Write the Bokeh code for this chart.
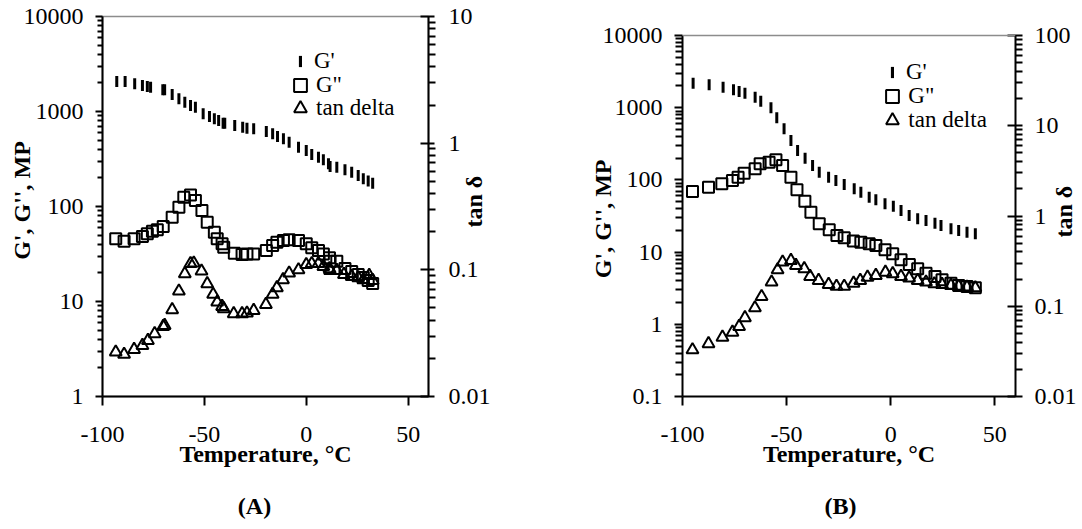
import math
from bokeh.plotting import figure
from bokeh.models import (Range1d, LogScale, LogAxis, LinearAxis, FixedTicker,
                          CustomJSTickFormatter, Legend, LegendItem, Span)
from bokeh.layouts import row
from bokeh.embed import file_html
from bokeh.resources import INLINE

# ---------------- Panel A data ----------------
a_gp_T = [-93.0, -88.9, -84.2, -80.4, -78.0, -76.4, -70.4, -69.5, -65.8, -62.5, -59.6, -56.8,
          -54.4, -50.6, -47.5, -45.1, -43.0, -40.8, -40.0, -35.1, -31.2, -29.1, -25.8, -19.6,
          -16.5, -14.1, -11.2, -8.4, -3.8, 0.0, 2.7, 6.0, 8.4, 10.9, 11.7, 15.0, 19.0, 22.3,
          25.5, 28.0, 30.4, 32.6]
a_gp = [2070, 2070, 1960, 1880, 1830, 1800, 1690, 1690, 1510, 1360, 1250, 1155, 1110, 946,
        886, 837, 804, 753, 753, 712, 684, 667, 658, 616, 582, 545, 516, 476, 421, 388, 352,
        330, 310, 281, 264, 259, 243, 230, 212, 196, 185, 176]
a_gpp_T = [-93.5, -89.4, -84.5, -80.4, -78.0, -75.5, -73.1, -70.2, -65.8, -62.5, -60.1, -56.8,
           -54.4, -51.2, -48.6, -45.1, -43.7, -41.3, -40.5, -35.3, -31.5, -29.1, -25.8, -19.6,
           -16.5, -14.4, -11.2, -8.4, -3.8, 0.0, 2.7, 6.0, 8.4, 11.4, 11.7, 15.0, 19.0, 22.3,
           25.5, 28.0, 30.4, 32.6]
a_gpp = [45.7, 43.1, 45.7, 48.3, 51.6, 55.0, 56.9, 61.5, 77.1, 98.3, 125, 132, 116, 90.8, 68.4,
         53.6, 45.7, 40.5, 37.3, 32.2, 31.2, 31.7, 31.7, 34.4, 38.8, 42.1, 43.8, 44.6, 43.8,
         40.5, 36.7, 34.4, 31.7, 28.8, 26.5, 26.5, 22.2, 20.7, 19.2, 17.9, 16.6, 15.5]
a_tan_T = [-93.5, -89.4, -84.5, -80.4, -77.7, -74.4, -70.2, -69.5, -65.8, -62.5, -59.6, -56.8,
           -55.2, -51.4, -48.6, -45.7, -43.7, -41.3, -40.5, -35.6, -31.5, -29.1, -25.8, -19.8,
           -16.5, -14.4, -11.4, -8.4, -3.8, 0.0, 2.7, 6.0, 8.4, 11.4, 11.7, 15.0, 18.5, 22.3,
           25.5, 28.0, 30.9, 32.6]
a_tan = [0.0224, 0.0215, 0.0235, 0.0253, 0.0277, 0.0313, 0.0357, 0.0364, 0.0484, 0.0679,
         0.0931, 0.112, 0.113, 0.0977, 0.0777, 0.0640, 0.0556, 0.0514, 0.0493, 0.0450, 0.0450,
         0.0455, 0.0478, 0.0533, 0.0640, 0.0722, 0.0836, 0.0943, 0.100, 0.110, 0.112, 0.112,
         0.106, 0.102, 0.0989, 0.0989, 0.0920, 0.0887, 0.0867, 0.0836, 0.0903, 0.0824]

# ---------------- Panel B data ----------------
b_gp_T = [-94.9, -87.2, -80.5, -75.5, -72.8, -70.0, -65.1, -62.4, -57.5, -54.7, -51.2, -47.9,
          -44.7, -41.1, -37.5, -34.3, -29.8, -26.3, -22.3, -17.5, -14.3, -10.3, -7.1, -2.7,
          1.3, 5.0, 8.9, 13.0, 17.0, 21.3, 24.2, 29.0, 32.7, 36.7, 40.7]
b_gp = [2185, 2075, 1925, 1770, 1676, 1588, 1397, 1230, 997, 725, 510, 351, 255, 200, 158,
        128, 109, 98, 86.4, 75.3, 67.6, 57.5, 52.9, 46.6, 43.2, 37.7, 32.1, 28.9, 27.4, 25.1,
        23.4, 21.0, 19.9, 18.9, 17.9]
b_gpp_T = [-95.2, -87.5, -81.1, -76.0, -73.3, -70.4, -65.1, -62.7, -58.4, -55.1, -51.9, -47.9,
           -45.0, -41.2, -38.3, -34.3, -29.5, -25.8, -22.3, -17.9, -14.3, -10.3, -7.1, -2.7,
           1.0, 5.0, 9.0, 13.0, 17.0, 21.3, 24.7, 29.0, 32.7, 36.7, 40.7]
b_gpp = [69.1, 79.2, 88.3, 98.2, 109, 124, 143, 167, 176, 190, 158, 109, 72.9, 50.7, 35.7,
         24.7, 20.4, 17.0, 15.8, 14.2, 13.7, 13.0, 12.3, 10.8, 9.47, 7.82, 6.73, 5.87, 5.10,
         4.59, 4.13, 3.71, 3.44, 3.34, 3.21]
b_tan_T = [-95.2, -87.5, -80.8, -76.0, -72.8, -70.0, -65.2, -62.0, -57.2, -54.3, -51.9, -47.9,
           -45.5, -41.5, -38.7, -34.6, -29.8, -26.0, -22.3, -17.8, -14.6, -11.1, -7.1, -2.5,
           1.0, 5.0, 8.9, 13.0, 17.0, 21.0, 24.7, 29.0, 32.7, 36.7, 40.7]
b_tan = [0.0329, 0.0384, 0.0454, 0.0516, 0.0597, 0.0745, 0.0961, 0.128, 0.185, 0.253, 0.308,
         0.321, 0.283, 0.260, 0.214, 0.193, 0.174, 0.166, 0.166, 0.180, 0.193, 0.210, 0.219,
         0.238, 0.229, 0.214, 0.206, 0.193, 0.185, 0.177, 0.174, 0.170, 0.166, 0.163, 0.160]

# ---------------- axis / text definitions ----------------
x_ticks = [-100, -50, 0, 50]
series_labels = ["G'", 'G"', "tan delta"]
y_title = "G', G'', MP"
y2_title = "tan \u03b4"
x_title = "Temperature, \u00b0C"

FONT = "Liberation Serif"
FMT = "return tick.toString();"
GRAY = "#8c8c8c"
NBSP = "\u00a0"


def decades(lo, hi):
    return [10.0 ** k for k in range(lo, hi + 1)]


def minors(lo, hi):
    return [m * 10.0 ** k for k in range(lo, hi) for m in range(2, 10)]


def text_axis(p, side, tick_value, text, standoff, vertical):
    """An axis with no line and no ticks whose single label is a title text."""
    ax = LinearAxis(ticker=FixedTicker(ticks=[tick_value], minor_ticks=[]),
                    formatter=CustomJSTickFormatter(code="return %r;" % text))
    ax.axis_line_color = None
    ax.major_tick_line_color = None
    ax.minor_tick_line_color = None
    ax.major_tick_out = 0
    ax.major_tick_in = 0
    ax.minor_tick_out = 0
    ax.minor_tick_in = 0
    ax.major_label_standoff = standoff
    ax.major_label_text_font = FONT
    ax.major_label_text_font_size = "24px"
    ax.major_label_text_font_style = "bold"
    ax.major_label_text_color = "black"
    if vertical:
        ax.major_label_orientation = math.pi / 2
    p.add_layout(ax, side)
    return ax


FRAME_TOP = 16
FRAME_BOTTOM = 396


def make_panel(cfg):
    L, W, tw = cfg["left"], cfg["fw"], cfg["tw"]
    T, fb = FRAME_TOP, FRAME_BOTTOM
    H = fb - T
    pt = cfg["plot_top"]               # pixel row of the top decade
    lo, hi = cfg["ylog"]
    tlo, thi = cfg["tlog"]
    dpx = (fb - pt) / float(hi - lo)    # pixels per decade, left axis
    tdpx = (fb - pt) / float(thi - tlo)  # pixels per decade, right axis
    y_top = 10.0 ** (lo + H / dpx)
    t_top = 10.0 ** (tlo + H / tdpx)

    p = figure(frame_width=W, frame_height=H, y_axis_type="log",
               x_range=Range1d(-100, 60), y_range=Range1d(10.0 ** lo, y_top),
               output_backend="svg", toolbar_location=None,
               min_border_left=L, min_border_top=T,
               min_border_right=tw - L - W, min_border_bottom=529 - fb,
               background_fill_color="white", border_fill_color="white")
    p.grid.visible = False
    p.extra_y_ranges = {"tan": Range1d(10.0 ** tlo, t_top)}
    p.extra_y_scales = {"tan": LogScale()}
    if pt == T:
        p.outline_line_color = GRAY
        p.outline_line_width = 1.5
    else:
        p.outline_line_color = None
        p.add_layout(Span(location=10.0 ** hi, dimension="width", line_color=GRAY,
                          line_width=1.5))

    def xd(px):
        return -100 + (px - L) * 160.0 / W

    def yd(py):
        return 10.0 ** (lo + (fb - py) / dpx)

    # x axis
    xa = p.xaxis[0]
    xa.ticker = FixedTicker(ticks=x_ticks)
    xa.formatter = CustomJSTickFormatter(code=FMT)
    xa.axis_line_width = 2
    xa.major_tick_line_width = 2
    xa.major_tick_out = 9
    xa.major_tick_in = 0
    xa.minor_tick_out = 0
    xa.minor_tick_in = 0
    xa.major_label_standoff = 21
    xa.major_label_text_font = FONT
    xa.major_label_text_font_size = "24px"
    xa.major_label_text_color = "black"
    xa.axis_label = x_title
    xa.axis_label_standoff = -4
    xa.axis_label_text_font = FONT
    xa.axis_label_text_font_size = "24px"
    xa.axis_label_text_font_style = "bold"
    xa.axis_label_text_color = "black"

    # left axis
    ya = p.yaxis[0]
    ya.ticker = FixedTicker(ticks=decades(lo, hi), minor_ticks=minors(lo, hi))
    ya.formatter = CustomJSTickFormatter(code=FMT)
    ya.bounds = (10.0 ** lo, 10.0 ** hi)
    ya.axis_line_width = 2
    ya.major_tick_line_width = 2
    ya.minor_tick_line_width = 2
    ya.major_tick_out = cfg["lmaj"]
    ya.major_tick_in = 0
    ya.minor_tick_out = cfg["lmin"]
    ya.minor_tick_in = 0
    ya.major_label_standoff = 12
    ya.major_label_text_font = FONT
    ya.major_label_text_font_size = "24px"
    ya.major_label_text_color = "black"

    # right axis
    ra = LogAxis(y_range_name="tan",
                 ticker=FixedTicker(ticks=decades(tlo, thi), minor_ticks=minors(tlo, thi)),
                 formatter=CustomJSTickFormatter(code=FMT),
                 bounds=(10.0 ** tlo, 10.0 ** thi))
    ra.axis_line_width = 2
    ra.major_tick_line_width = 2
    ra.minor_tick_line_width = 2
    ra.major_tick_in = 8
    ra.major_tick_out = cfg["rmaj"]
    ra.minor_tick_in = 0
    ra.minor_tick_out = 7
    ra.major_label_standoff = cfg["rstand"]
    ra.major_label_text_font = FONT
    ra.major_label_text_font_size = "24px"
    ra.major_label_text_color = "black"
    p.add_layout(ra, "right")

    # left title
    if cfg["ytitle_mode"] == "axis_label":
        pad = NBSP * cfg["ytitle_pad"]
        ya.axis_label = pad + y_title if cfg["ytitle_pad_side"] == "lead" else y_title + pad
        ya.axis_label_standoff = cfg["ytitle_so"]
        ya.axis_label_text_font = FONT
        ya.axis_label_text_font_size = "24px"
        ya.axis_label_text_font_style = "bold"
        ya.axis_label_text_color = "black"
    else:
        text_axis(p, "left", yd(cfg["ytitle_y"] - 56), y_title, cfg["ytitle_so"], True)
    # right title and panel tag
    text_axis(p, "right", yd(cfg["y2title_y"] + 20), y2_title, cfg["y2title_so"], True)
    text_axis(p, "below", xd(cfg["tag_x"]), cfg["tag"], 23, False)

    # data
    r_gpp = p.scatter(cfg["gpp_T"], cfg["gpp"], marker="square", size=11,
                      fill_color=None, line_color="black", line_width=2)
    r_tan = p.scatter(cfg["tan_T"], cfg["tan"], marker="triangle", size=12,
                      fill_color=None, line_color="black", line_width=2, y_range_name="tan")
    r_gp = p.rect(cfg["gp_T"], cfg["gp"], width=3, height=11, width_units="screen",
                  height_units="screen", fill_color="black", line_color=None)
    r_key = p.line(x=[], y=[], line_color=None)

    # legends
    mx, tx, rows = cfg["leg_x"], cfg["leg_tx"], cfg["leg_rows"]

    def legend(rend, lab, gw, gh, x0, row_c, standoff, fsize):
        leg = Legend(items=[LegendItem(label=lab, renderers=[rend])],
                     location=(x0 - L, fb - (row_c + gh / 2.0)),
                     glyph_width=gw, glyph_height=gh, label_height=gh,
                     label_standoff=standoff, padding=0, margin=0, spacing=0,
                     border_line_color=None, background_fill_alpha=0,
                     label_text_font=FONT, label_text_font_size=fsize,
                     label_text_color="black")
        p.add_layout(leg)

    so = int(round(tx - (mx + 16)))
    legend(r_gp, " ", 4, 14, mx - 2, rows[0], 0, "1px")
    legend(r_key, series_labels[0], 1, 28, tx - 1, rows[0], 0, "23px")
    legend(r_gpp, series_labels[1], 32, 32, mx - 16, rows[1], so, "23px")
    legend(r_tan, series_labels[2], 32, 32, mx - 16, rows[2], so, "23px")
    return p


cfgA = dict(left=102, fw=326, tw=541, plot_top=16, ylog=(0, 4), tlog=(-2, 1),
            lmaj=7, lmin=5, rmaj=6, rstand=13,
            gp_T=a_gp_T, gp=a_gp, gpp_T=a_gpp_T, gpp=a_gpp, tan_T=a_tan_T, tan=a_tan,
            leg_x=300, leg_tx=314, leg_rows=[61, 85, 108],
            ytitle_mode="axis_label", ytitle_pad=2, ytitle_pad_side="lead", ytitle_so=-14,
            ytitle_y=198, y2title_y=207, y2title_so=-20,
            tag_x=254, tag="(A)")
cfgB = dict(left=141, fw=333, tw=541, plot_top=35, ylog=(-1, 4), tlog=(-2, 2),
            lmaj=8, lmin=7, rmaj=7, rstand=12,
            gp_T=b_gp_T, gp=b_gp, gpp_T=b_gpp_T, gpp=b_gpp, tan_T=b_tan_T, tan=b_tan,
            leg_x=351.3, leg_tx=365, leg_rows=[72, 96, 120],
            ytitle_mode="tick", ytitle_so=-3,
            ytitle_y=215, y2title_y=217, y2title_so=-16,
            tag_x=299, tag="(B)")

pA = make_panel(cfgA)
pB = make_panel(cfgB)
layout = row(pA, pB)
open("out.html", "w").write(file_html(layout, INLINE))
